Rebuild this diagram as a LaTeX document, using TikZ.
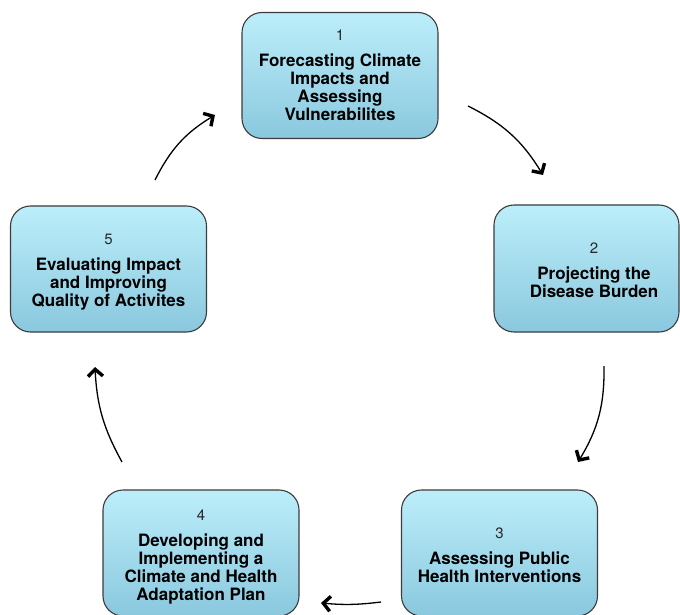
\documentclass[tikz,border=0pt]{standalone}
\usepackage{fontspec}
\setmainfont{TeX Gyre Heros}
\usetikzlibrary{arrows.meta}
\definecolor{boxtop}{RGB}{188,238,250}
\definecolor{boxbot}{RGB}{138,200,222}
\definecolor{boxline}{RGB}{60,60,60}
\definecolor{numcol}{RGB}{40,40,40}
\tikzset{
  stepbox/.style={draw=boxline, line width=1.1bp, rounded corners=20bp,
    top color=boxtop, bottom color=boxbot,
    minimum width=196bp, minimum height=126bp, inner sep=0pt},
  steptext/.style={align=center, inner sep=0pt, text=black,
    font=\fontsize{17bp}{18bp}\selectfont\bfseries},
  cyc/.style={line width=1.3bp,
    -{Straight Barb[length=7bp,width=15bp,line width=3.4bp]}, bend left=16},
}
\newcommand{\stepnum}[1]{{\fontsize{15bp}{18bp}\selectfont\mdseries\color{numcol}#1}\\[8bp]}
\begin{document}
\begin{tikzpicture}[x=1bp,y=1bp]
\useasboundingbox (0,0) rectangle (680,-615);
\clip (0,0) rectangle (680,-615);
% boxes
\node[stepbox] (b1) at (340,-75.5) {};
\node[stepbox, minimum width=185bp, minimum height=127bp] (b2) at (586.5,-268.5) {};
\node[stepbox] (b3) at (499.5,-553) {};
\node[stepbox] (b4) at (201,-553) {};
\node[stepbox] (b5) at (108.5,-269) {};
% texts
\node[steptext] (t1) at (340,-75.5) {\stepnum{1}Forecasting Climate\\Impacts and\\Assessing\\Vulnerabilites};
\node[steptext] (t2) at (594,-270.5) {\stepnum{2}Projecting the\\Disease Burden};
\node[steptext] (t3) at (499.5,-555.5) {\stepnum{3}Assessing Public\\Health Interventions};
\node[steptext] (t4) at (201,-557) {\stepnum{4}Developing and\\Implementing a\\Climate and Health\\Adaptation Plan};
\node[steptext] (t5) at (108.5,-272) {\stepnum{5}Evaluating Impact\\and Improving\\Quality of Activites};
% arrow ends
\coordinate (a12s) at (468,-106);
\coordinate (a12e) at (543,-175);
\coordinate (a23s) at (604,-366);
\coordinate (a23e) at (578,-462);
\coordinate (a34s) at (381,-602);
\coordinate (a34e) at (321,-603);
\coordinate (a45s) at (122,-462);
\coordinate (a45e) at (95,-367);
\coordinate (a51s) at (155,-180);
\coordinate (a51e) at (215,-115);
\draw[cyc] (a12s) to (a12e);
\draw[cyc] (a23s) to (a23e);
\draw[cyc, bend left=6] (a34s) to (a34e);
\draw[cyc, bend left=13] (a45s) to (a45e);
\draw[cyc] (a51s) to (a51e);
\end{tikzpicture}
\end{document}
